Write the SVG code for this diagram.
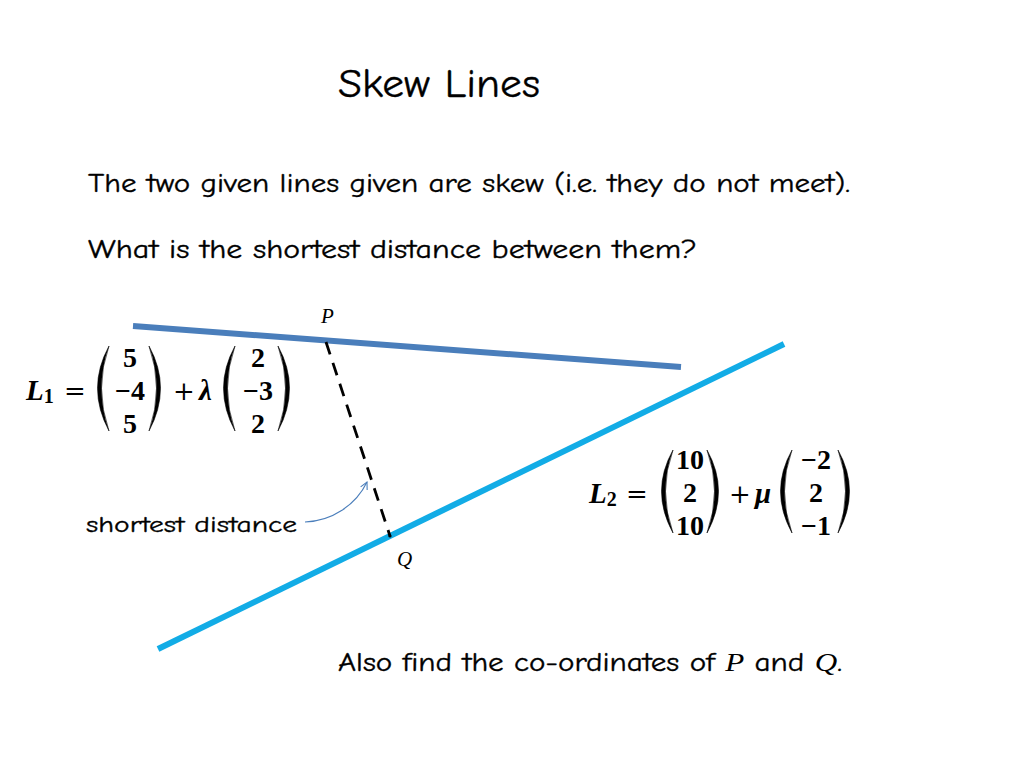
<svg xmlns="http://www.w3.org/2000/svg" width="1024" height="768" viewBox="0 0 1024 768">
<defs>
<style>
.t{font-family:"Comic Neue","Liberation Sans","DejaVu Sans",sans-serif;fill:#000;stroke:#000;stroke-width:0.35}
.m{font-family:"Liberation Serif","DejaVu Serif",serif;font-weight:bold;font-style:italic;fill:#000;font-size:29px}
.s{font-style:normal;font-weight:bold;font-size:20px}
.n{font-family:"Liberation Serif","DejaVu Serif",serif;font-weight:bold;fill:#000;font-size:28px;text-anchor:middle}
.o{font-family:"DejaVu Serif","Liberation Serif",serif;fill:#000;font-size:26px}
.i{font-family:"Liberation Serif","DejaVu Serif",serif;font-style:italic;fill:#000;stroke:none}
.par{fill:#000;stroke:#000;stroke-width:0.6}
</style>
<marker id="ah" viewBox="0 0 10 10" refX="9" refY="5" markerWidth="9" markerHeight="9" orient="auto" markerUnits="userSpaceOnUse">
<path d="M1,1 L9,5 L1,9" fill="none" stroke="#4a7ebb" stroke-width="1.2"/>
</marker>
</defs>
<rect width="1024" height="768" fill="#fff"/>

<g id="title"><text class="t" x="338" y="97" font-size="40" textLength="202" lengthAdjust="spacingAndGlyphs">Skew Lines</text></g>
<g id="q1"><text class="t" x="88" y="192" font-size="26" textLength="762" lengthAdjust="spacingAndGlyphs">The two given lines given are skew (i.e. they do not meet).</text></g>
<g id="q2"><text class="t" x="88" y="258" font-size="26" textLength="609" lengthAdjust="spacingAndGlyphs">What is the shortest distance between them?</text></g>

<g id="connectors">
<line id="line1" x1="133" y1="326" x2="681" y2="367" stroke="#4a7ebb" stroke-width="6"/>
<line id="line2" x1="158" y1="649" x2="784" y2="344" stroke="#12ace6" stroke-width="6"/>
<line id="pq" x1="326" y1="342" x2="390" y2="536" stroke="#000" stroke-width="2.8" stroke-dasharray="13,9"/>
<circle cx="390" cy="536" r="1.6" fill="#000"/>
<path id="pointer" d="M305,522 C332,521 356,505 367,482" fill="none" stroke="#4a7ebb" stroke-width="1.1" marker-end="url(#ah)"/>
</g>

<g id="labelP"><text class="i" x="321" y="323" font-size="21">P</text></g>
<g id="labelQ"><text class="i" x="397" y="566" font-size="21">Q</text></g>

<g id="eqL1">
<text class="m" x="26" y="400">L<tspan class="s" dy="3">1</tspan></text>
<text class="o" x="64" y="400">=</text>
<path class="par" d="M109,346 Q86,388 109,431 Q94,388 109,346 Z"/>
<text class="n" x="130" y="367">5</text>
<text class="n" x="130" y="400">−4</text>
<text class="n" x="130" y="433">5</text>
<path class="par" d="M149,346 Q172,388 149,431 Q164,388 149,346 Z"/>
<text class="o" x="173" y="400">+</text>
<text class="m" x="199" y="400">λ</text>
<path class="par" d="M235,346 Q212,388 235,431 Q220,388 235,346 Z"/>
<text class="n" x="258" y="367">2</text>
<text class="n" x="258" y="400">−3</text>
<text class="n" x="258" y="433">2</text>
<path class="par" d="M278,346 Q301,388 278,431 Q293,388 278,346 Z"/>
</g>

<g id="eqL2">
<text class="m" x="589" y="503">L<tspan class="s" dy="3">2</tspan></text>
<text class="o" x="626" y="503">=</text>
<path class="par" d="M673,450 Q650,491 673,533 Q658,491 673,450 Z"/>
<text class="n" x="690" y="469">10</text>
<text class="n" x="690" y="502">2</text>
<text class="n" x="690" y="535">10</text>
<path class="par" d="M707,450 Q730,491 707,533 Q722,491 707,450 Z"/>
<text class="o" x="729" y="503">+</text>
<text class="m" x="755" y="503">μ</text>
<path class="par" d="M792,450 Q769,491 792,533 Q777,491 792,450 Z"/>
<text class="n" x="816" y="469">−2</text>
<text class="n" x="816" y="502">2</text>
<text class="n" x="816" y="535">−1</text>
<path class="par" d="M838,450 Q861,491 838,533 Q853,491 838,450 Z"/>
</g>

<g id="sdlabel"><text class="t" x="86" y="532" font-size="23" textLength="211" lengthAdjust="spacingAndGlyphs">shortest distance</text></g>

<g id="footer"><text class="t" x="338" y="671" font-size="26" textLength="504" lengthAdjust="spacingAndGlyphs">Also find the co-ordinates of <tspan class="i">P</tspan> and <tspan class="i">Q</tspan>.</text></g>
</svg>
